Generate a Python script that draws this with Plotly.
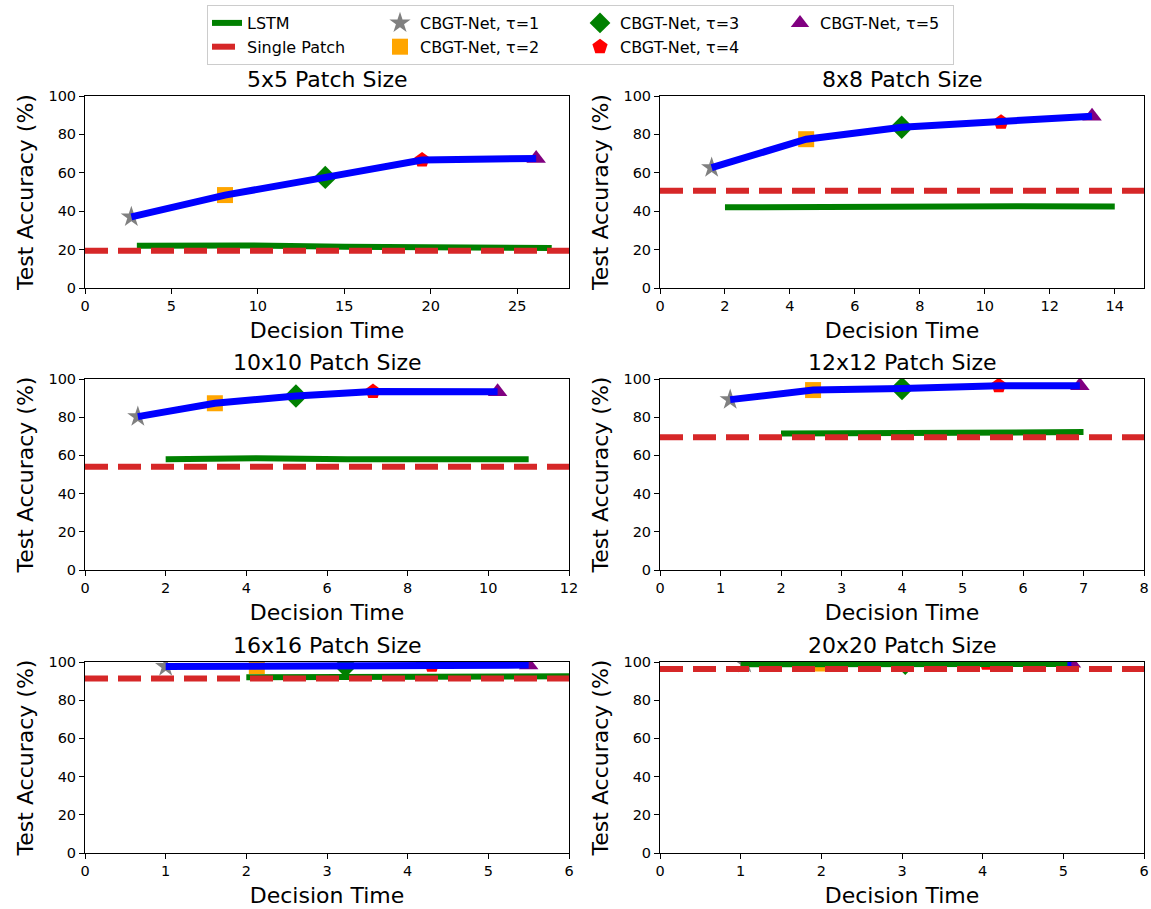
import plotly.graph_objects as go

# ---------------- data ----------------
panel_titles = ["5x5 Patch Size", "8x8 Patch Size", "10x10 Patch Size",
                "12x12 Patch Size", "16x16 Patch Size", "20x20 Patch Size"]

# CBGT-Net (tau = 1..5) decision times and accuracies per patch size
cbgt_x_5 = [2.68, 8.1, 13.9, 19.5, 26.1]
cbgt_y_5 = [37.0, 48.4, 57.6, 66.7, 67.5]
cbgt_x_8 = [1.59, 4.5, 7.44, 10.5, 13.3]
cbgt_y_8 = [62.7, 77.5, 83.7, 86.3, 89.5]
cbgt_x_10 = [1.31, 3.22, 5.23, 7.14, 10.23]
cbgt_y_10 = [80.3, 87.3, 91.1, 93.4, 93.3]
cbgt_x_12 = [1.16, 2.53, 4.0, 5.6, 6.94]
cbgt_y_12 = [89.2, 94.2, 95.0, 96.5, 96.5]
cbgt_x_16 = [1.0, 2.13, 3.23, 4.3, 5.5]
cbgt_y_16 = [97.6, 97.9, 98.0, 98.3, 98.4]
cbgt_x_20 = [1.05, 2.02, 3.04, 4.05, 5.1]
cbgt_y_20 = [99.2, 99.2, 99.3, 99.3, 99.3]

# LSTM baseline
lstm_x_5 = [3, 9, 15, 21, 27]
lstm_y_5 = [22.0, 22.2, 21.5, 21.0, 20.8]
lstm_x_8 = [2, 5, 8, 11, 14]
lstm_y_8 = [42.0, 42.3, 42.8, 42.6, 42.5]
lstm_x_10 = [2, 4.25, 6.5, 8.75, 11]
lstm_y_10 = [58.0, 58.5, 58.0, 58.3, 58.0]
lstm_x_12 = [2, 3.25, 4.5, 5.75, 7]
lstm_y_12 = [71.5, 71.7, 71.8, 71.9, 72.2]
lstm_x_16 = [2, 3, 4, 5, 6]
lstm_y_16 = [92.0, 92.2, 92.5, 92.7, 92.5]
lstm_x_20 = [1, 2, 3, 4, 5.05]
lstm_y_20 = [98.8, 98.9, 98.9, 99.0, 99.0]

# Single patch accuracy
single_patch = [19.4, 50.7, 54.1, 69.5, 91.4, 96.3]

# axis ranges / ticks
x_ranges = [[0, 28], [0, 14.9], [0, 12], [0, 8], [0, 6], [0, 6]]
x_dticks = [5, 2, 2, 1, 1, 1]
y_range = [0, 100]

tau_labels = ["CBGT-Net, τ=1", "CBGT-Net, τ=2", "CBGT-Net, τ=3",
              "CBGT-Net, τ=4", "CBGT-Net, τ=5"]

cbgt_x = [cbgt_x_5, cbgt_x_8, cbgt_x_10, cbgt_x_12, cbgt_x_16, cbgt_x_20]
cbgt_y = [cbgt_y_5, cbgt_y_8, cbgt_y_10, cbgt_y_12, cbgt_y_16, cbgt_y_20]
lstm_x = [lstm_x_5, lstm_x_8, lstm_x_10, lstm_x_12, lstm_x_16, lstm_x_20]
lstm_y = [lstm_y_5, lstm_y_8, lstm_y_10, lstm_y_12, lstm_y_16, lstm_y_20]

# ---------------- style ----------------
W, H = 1151, 909
FONT = "DejaVu Sans"
sym = ["star", "square", "diamond", "pentagon", "triangle-up"]
sym_col = ["gray", "orange", "green", "red", "purple"]
sym_size = [16, 16, 18, 16, 17]
groups = ["g2", "g2", "g3", "g3", "g4"]

col_px = [(85, 569), (660, 1144)]
row_px = [(96, 288), (379, 570), (662, 853)]

fig = go.Figure()
layout_axes = {}
annotations = []

for i in range(6):
    r, c = divmod(i, 2)
    ax = "" if i == 0 else str(i + 1)
    xref, yref = "x" + ax, "y" + ax
    show = i == 0
    # CBGT markers
    for k in range(5):
        fig.add_trace(go.Scatter(
            x=[cbgt_x[i][k]], y=[cbgt_y[i][k]], mode="markers",
            marker=dict(symbol=sym[k], color=sym_col[k], size=sym_size[k],
                        line=dict(width=0)),
            name=tau_labels[k], legendgroup=groups[k], legendrank=3 + k,
            legendwidth=(128 if k == 4 else 155),
            showlegend=show, xaxis=xref, yaxis=yref, hoverinfo="skip"))
    # CBGT line
    fig.add_trace(go.Scatter(
        x=cbgt_x[i], y=cbgt_y[i], mode="lines",
        line=dict(color="blue", width=7),
        showlegend=False, xaxis=xref, yaxis=yref, hoverinfo="skip"))
    # LSTM
    fig.add_trace(go.Scatter(
        x=lstm_x[i], y=lstm_y[i], mode="lines",
        line=dict(color="#008000", width=6),
        name="LSTM", legendgroup="g1", legendrank=1, legendwidth=128,
        showlegend=show, xaxis=xref, yaxis=yref, hoverinfo="skip"))
    # Single patch
    fig.add_trace(go.Scatter(
        x=x_ranges[i], y=[single_patch[i], single_patch[i]], mode="lines",
        line=dict(color="#d62728", width=6, dash="23px,10px"),
        name="Single Patch", legendgroup="g1", legendrank=2, legendwidth=128,
        showlegend=show, xaxis=xref, yaxis=yref, hoverinfo="skip"))

    x0, x1 = col_px[c]
    y0, y1 = row_px[r]
    common = dict(showline=True, linecolor="black", linewidth=1, mirror=True,
                  ticks="outside", ticklen=5, tickwidth=1, tickcolor="black",
                  showgrid=False, zeroline=False, automargin=False,
                  ticklabeloverflow="allow",
                  tickfont=dict(family=FONT, size=14.5, color="black"))
    layout_axes["xaxis" + ax] = dict(
        common, domain=[x0 / W, x1 / W], anchor=yref, range=x_ranges[i],
        tick0=0, dtick=x_dticks[i],
        title=dict(text="Decision Time", font=dict(family=FONT, size=22, color="black"),
                   standoff=9))
    layout_axes["yaxis" + ax] = dict(
        common, domain=[1 - y1 / H, 1 - y0 / H], anchor=xref, range=y_range,
        tick0=0, dtick=20,
        title=dict(text="Test Accuracy (%)", font=dict(family=FONT, size=22, color="black"),
                   standoff=8))
    annotations.append(dict(
        text=panel_titles[i], x=(x0 + x1) / 2 / W, y=1 - y0 / H,
        xref="paper", yref="paper", xanchor="center", yanchor="bottom",
        yshift=2, showarrow=False, font=dict(family=FONT, size=22, color="black")))

fig.update_layout(
    width=W, height=H,
    margin=dict(l=0, r=0, t=0, b=0),
    paper_bgcolor="white", plot_bgcolor="white",
    font=dict(family=FONT, color="black"),
    showlegend=True,
    hovermode=False,
    legend=dict(orientation="h", traceorder="grouped", tracegroupgap=0,
                x=207 / W, xanchor="left", y=1 - 5 / H, yanchor="top",
                bgcolor="white", bordercolor="#cccccc", borderwidth=1,
                font=dict(family=FONT, size=16, color="black"),
                itemsizing="trace"),
    annotations=annotations,
    **layout_axes,
)

fig.write_html(
    "out.html",
    config={"displayModeBar": False},
    post_script="document.body.style.margin='0';document.body.style.overflow='hidden';",
)
